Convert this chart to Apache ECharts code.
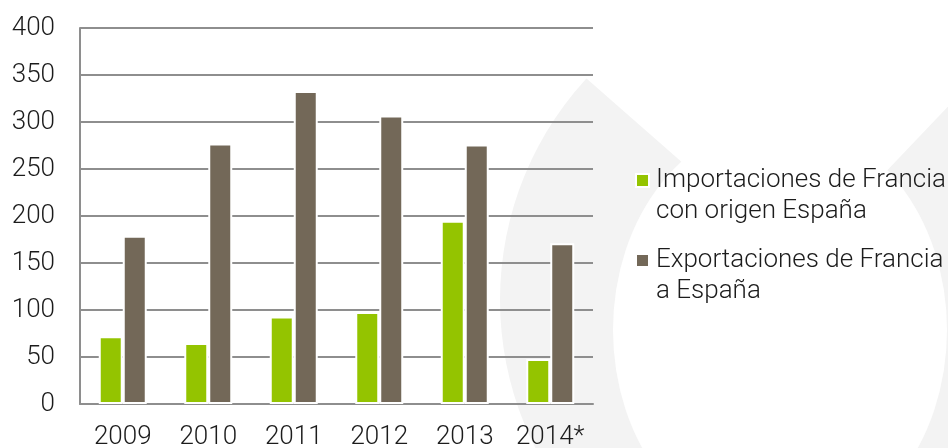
<!DOCTYPE html>
<html><head><meta charset="utf-8">
<script src="https://cdn.jsdelivr.net/npm/echarts@6/dist/echarts.min.js"></script>
<style>html,body{margin:0;padding:0;background:#fff}#c{width:948px;height:448px}</style>
</head><body><div id="c"></div>
<script>
const categories = ['2009', '2010', '2011', '2012', '2013', '2014*'];
const importaciones = [72, 65, 93, 98, 195, 48];
const exportaciones = [179, 277, 333, 307, 276, 171];
const yMin = 0, yMax = 400, yInterval = 50;
const seriesNames = ['Importaciones de Francia\ncon origen España', 'Exportaciones de Francia\na España'];

const FONT = 'Roboto';
const TEXT = '#1c1c1c';
const GRID = '#8e8e8e';
const GREEN = '#94c400';
const BROWN = '#736858';
const WM = '#f3f3f3';

const chart = echarts.init(document.getElementById('c'), null, {renderer: 'canvas'});
chart.setOption({
  backgroundColor: '#ffffff',
  animation: false,
  graphic: [
    {type: 'circle', z: -10, silent: true, shape: {cx: 827, cy: 300, r: 327}, style: {fill: WM}},
    {type: 'circle', z: -9, silent: true, x: 780, y: 330, scaleY: 1.25, shape: {cx: 0, cy: 0, r: 167}, style: {fill: '#ffffff'}},
    {type: 'polygon', z: -9, silent: true, shape: {points: [[798, 264], [440, -50], [1097, -50]]}, style: {fill: '#ffffff'}}
  ],
  grid: {left: 80, right: 355, top: 28, bottom: 44, containLabel: false, outerBoundsMode: 'none'},
  legend: {
    orient: 'vertical',
    left: 635, top: 134,
    padding: 0,
    itemWidth: 13, itemHeight: 13,
    itemGap: -13,
    icon: 'rect',
    formatter: name => '\n' + name,
    textStyle: {fontFamily: FONT, fontWeight: 300, fontSize: 26, color: TEXT, lineHeight: 31, padding: [0, 0, 0, 2]},
    data: seriesNames
  },
  xAxis: {
    type: 'category',
    data: categories,
    axisLine: {show: true, lineStyle: {color: GRID, width: 2}},
    axisTick: {show: false},
    axisLabel: {interval: 0, hideOverlap: false, fontFamily: FONT, fontWeight: 300, fontSize: 26, color: TEXT, margin: 20}
  },
  yAxis: {
    type: 'value',
    min: yMin, max: yMax, interval: yInterval,
    axisLine: {show: true, lineStyle: {color: GRID, width: 2}},
    axisTick: {show: false},
    splitLine: {show: true, lineStyle: {color: GRID, width: 2}},
    axisLabel: {fontFamily: FONT, fontWeight: 300, fontSize: 26, color: TEXT, margin: 25}
  },
  series: [
    {name: seriesNames[0], type: 'bar', data: importaciones, barWidth: 24, barGap: '0%',
     itemStyle: {color: GREEN, borderColor: '#ffffff', borderWidth: 2}},
    {name: seriesNames[1], type: 'bar', data: exportaciones, barWidth: 24, barGap: '0%',
     itemStyle: {color: BROWN, borderColor: '#ffffff', borderWidth: 2}}
  ]
});
</script>
</body></html>
